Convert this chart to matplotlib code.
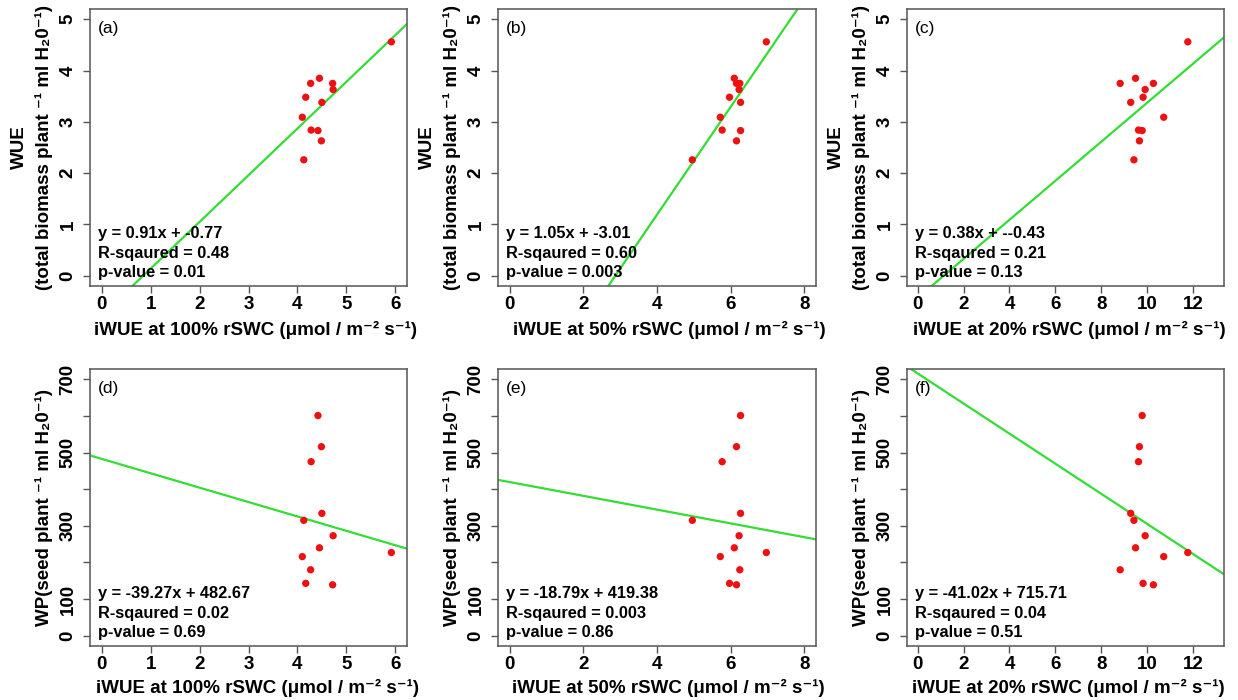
import matplotlib
matplotlib.use("Agg")
import matplotlib.pyplot as plt
import numpy as np

# ---------------- data ----------------
iwue_100 = [5.92, 4.45, 4.27, 4.72, 4.73, 4.17, 4.50, 4.10, 4.28, 4.42, 4.49, 4.13]
iwue_50 = [6.97, 6.10, 6.25, 6.16, 6.23, 5.97, 6.27, 5.72, 5.77, 6.27, 6.16, 4.96]
iwue_20 = [11.78, 9.50, 8.83, 10.28, 9.92, 9.83, 9.29, 10.73, 9.63, 9.79, 9.67, 9.43]
wue = [4.56, 3.85, 3.75, 3.75, 3.63, 3.48, 3.38, 3.09, 2.84, 2.83, 2.63, 2.26]
wp = [227, 240, 180, 139, 273, 143, 334, 216, 475, 601, 516, 315]

slopes = [0.91, 1.05, 0.38, -39.27, -18.79, -41.02]
intercepts = [-0.77, -3.01, -0.43, 482.67, 419.38, 715.71]
eq_texts = ["y = 0.91x + -0.77", "y = 1.05x + -3.01", "y = 0.38x + --0.43",
            "y = -39.27x + 482.67", "y = -18.79x + 419.38", "y = -41.02x + 715.71"]
r2_texts = ["0.48", "0.60", "0.21", "0.02", "0.003", "0.04"]
p_texts = ["0.01", "0.003", "0.13", "0.69", "0.86", "0.51"]
panel_labels = ["(a)", "(b)", "(c)", "(d)", "(e)", "(f)"]
levels = ["100%", "50%", "20%"]

x_ticks_list = [[0, 1, 2, 3, 4, 5, 6], [0, 2, 4, 6, 8], [0, 2, 4, 6, 8, 10, 12]]
x_lims = [(-0.24, 6.24), (-0.32, 8.32), (-0.47, 13.36)]
wue_ticks = [0, 1, 2, 3, 4, 5]
wp_ticks = [0, 100, 200, 300, 400, 500, 600, 700]
wp_ticklabels = ["0", "100", "", "300", "", "500", "", "700"]

# ---------------- style ----------------
FONT = "Liberation Sans"
plt.rcParams["font.family"] = [FONT, "DejaVu Sans"]
plt.rcParams["font.weight"] = "bold"

W, H = 1238, 700
fig = plt.figure(figsize=(W / 100, H / 100), dpi=100)

frame_col = "#555555"
green = "#33dd33"
red = "#ee1111"

lefts = [90, 498, 907]
rights = [407, 816, 1224]
tops = [9, 369]
bottoms = [286, 646]
xlabel_centers = [[256, 669, 1069], [258, 668, 1068]]
xlabel_y = [330, 688]

xs = [iwue_100, iwue_50, iwue_20]

for r in range(2):
    for c in range(3):
        i = r * 3 + c
        l, rr = lefts[c], rights[c]
        t, b = tops[r], bottoms[r]
        ax = fig.add_axes([l / W, 1 - b / H, (rr - l) / W, (b - t) / H])
        x = np.array(xs[c])
        y = np.array(wue if r == 0 else wp)
        ax.set_xlim(*x_lims[c])
        if r == 0:
            ax.set_ylim(-0.2, 5.2)
            ax.set_yticks(wue_ticks)
        else:
            ax.set_ylim(-28, 728)
            ax.set_yticks(wp_ticks)
            ax.set_yticklabels(wp_ticklabels)
        ax.set_xticks(x_ticks_list[c])

        xl = np.array(ax.get_xlim())
        ax.plot(xl, slopes[i] * xl + intercepts[i], color=green, lw=1.6, zorder=2)
        ax.scatter(x, y, s=28, color=red, edgecolors="none", zorder=3)
        ax.set_xlim(*x_lims[c])

        for sp in ax.spines.values():
            sp.set_color(frame_col)
            sp.set_linewidth(1.1)
        ax.tick_params(axis="both", direction="out", length=5, width=1.0,
                       color=frame_col, labelsize=13.5)
        ax.tick_params(axis="x", pad=2.5)
        ax.tick_params(axis="y", labelrotation=90, pad=4.6)
        for lab in ax.get_yticklabels():
            lab.set_va("center")
            lab.set_fontweight("bold")
        for lab in ax.get_xticklabels():
            lab.set_fontweight("bold")

        ax.text(0.025, 0.93, panel_labels[i], transform=ax.transAxes,
                fontsize=12.5, fontweight="normal", ha="left", va="center")
        ax.text(0.024, 0.188, eq_texts[i], transform=ax.transAxes,
                fontsize=11.8, fontweight="bold", ha="left", va="center")
        ax.text(0.024, 0.116, "R-sqaured = " + r2_texts[i], transform=ax.transAxes,
                fontsize=11.8, fontweight="bold", ha="left", va="center")
        ax.text(0.024, 0.047, "p-value = " + p_texts[i], transform=ax.transAxes,
                fontsize=11.8, fontweight="bold", ha="left", va="center")

        # x label
        fig.text(xlabel_centers[r][c] / W, 1 - xlabel_y[r] / H,
                 "iWUE at " + levels[c] + " rSWC (μmol / m\u207b\u00b2 s\u207b\u00b9)",
                 fontsize=13.5, fontweight="bold", ha="center", va="center")
        # y label
        yc = 1 - ((t + b) / 2) / H
        if r == 0:
            fig.text((l - 71) / W, yc, "WUE", rotation=90, fontsize=13.5,
                     fontweight="bold", ha="center", va="center")
            fig.text((l - 46) / W, yc,
                     "(total biomass plant \u207b\u00b9 ml H\u20820\u207b\u00b9)",
                     rotation=90, fontsize=13.5, fontweight="bold",
                     ha="center", va="center")
        else:
            fig.text((l - 46) / W, yc,
                     "WP(seed plant \u207b\u00b9 ml H\u20820\u207b\u00b9)",
                     rotation=90, fontsize=13.5, fontweight="bold",
                     ha="center", va="center")

fig.savefig("out.png", dpi=100)
